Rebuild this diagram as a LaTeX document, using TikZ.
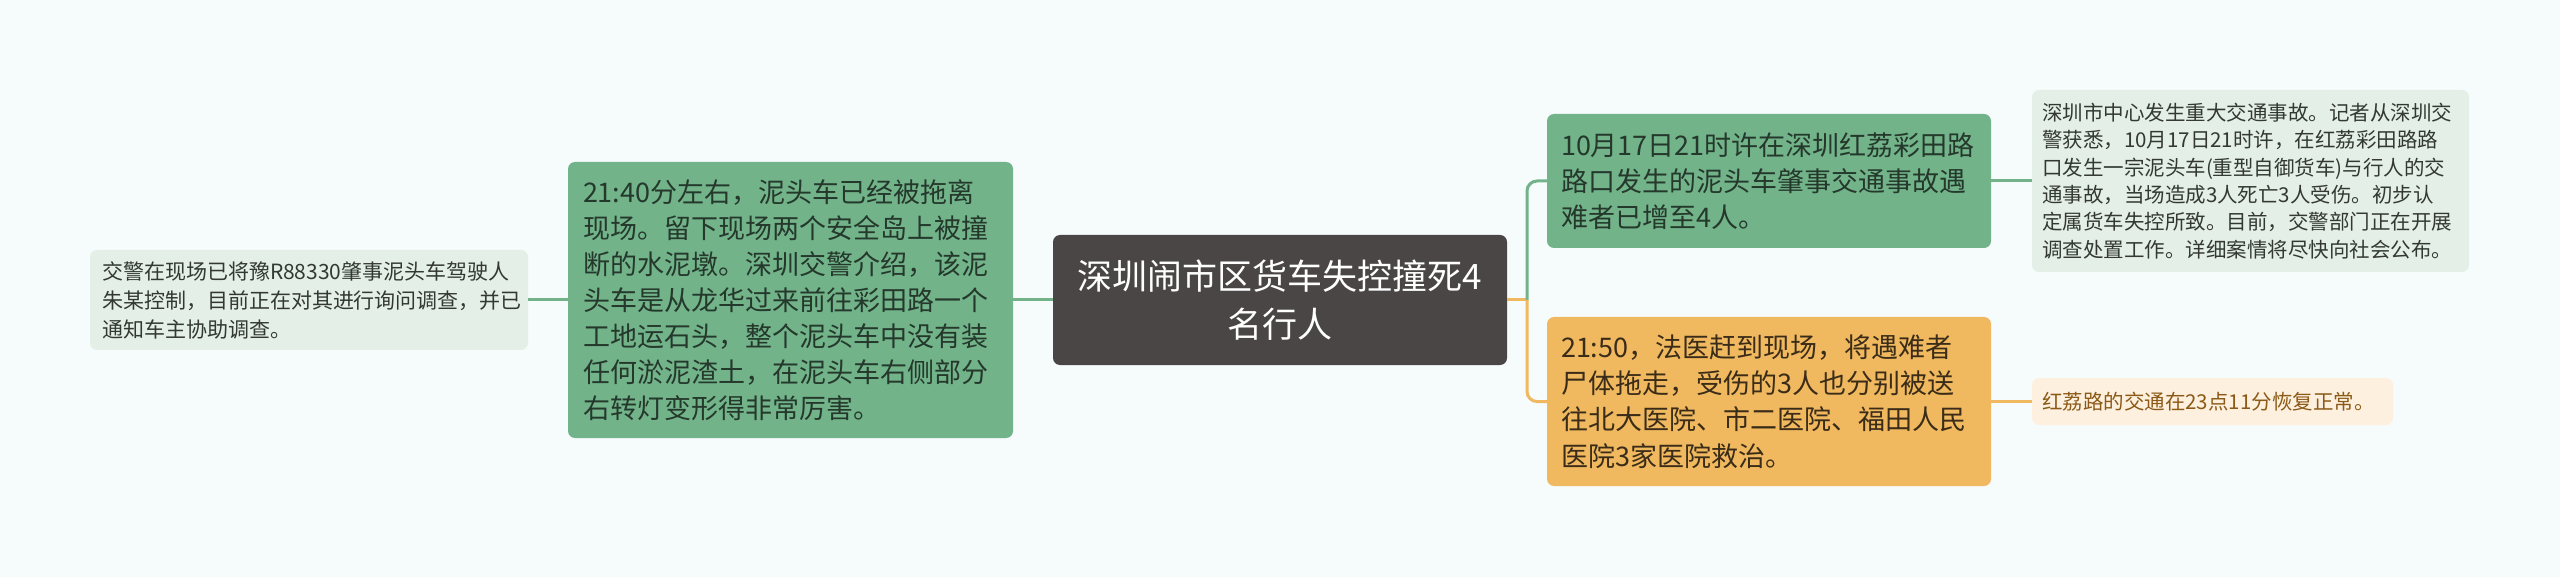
\documentclass[tikz,border=0pt]{standalone}
\usepackage{fontspec}
\setmainfont{Noto Sans CJK SC}

\definecolor{bgcol}{HTML}{F6FBFC}
\definecolor{rootcol}{HTML}{4B4646}
\definecolor{greencol}{HTML}{72B38A}
\definecolor{leafgreen}{HTML}{E4EFE7}
\definecolor{orangecol}{HTML}{F0B95F}
\definecolor{leaforange}{HTML}{FDF0DF}
\definecolor{greentext}{HTML}{24382B}
\definecolor{leaftext}{HTML}{333833}
\definecolor{orangetext}{HTML}{3A2C18}
\definecolor{browntext}{HTML}{8B5A16}

\begin{document}
\begin{tikzpicture}[x=1pt,y=-1pt,
  box/.style={rounded corners=7pt, inner ysep=0pt, align=left},
  rootbox/.style={box, fill=rootcol, text=white, align=center,
    font=\fontsize{35}{48}\selectfont},
  greenbox/.style={box, fill=greencol, text=greentext,
    font=\fontsize{27}{36}\selectfont},
  orangebox/.style={box, fill=orangecol, text=orangetext,
    font=\fontsize{27}{36.3}\selectfont},
  greenleaf/.style={box, fill=leafgreen, text=leaftext},
  orangeleaf/.style={box, fill=leaforange, text=browntext},
  greenline/.style={draw=greencol, line width=3pt},
  orangeline/.style={draw=orangecol, line width=3pt}]

\useasboundingbox[fill=bgcol] (0,0) rectangle (2560,577);

% Root topic
\node[rootbox, inner xsep=8pt, text width=438pt, minimum height=130pt]
  (root) at (1280,300)
  {深圳闹市区货车失控撞死4\\名行人};

% Left branch
\node[greenbox, inner xsep=15pt, text width=415pt, minimum height=276pt]
  (scene) at (790.5,300)
  {21:40分左右，泥头车已经被拖离\\现场。留下现场两个安全岛上被撞\\断的水泥墩。深圳交警介绍，该泥\\头车是从龙华过来前往彩田路一个\\工地运石头，整个泥头车中没有装\\任何淤泥渣土，在泥头车右侧部分\\右转灯变形得非常厉害。};

\node[greenleaf, inner xsep=12pt, text width=414pt, minimum height=100pt,
  font=\fontsize{21}{29}\selectfont]
  (driver) at (309,300)
  {交警在现场已将豫R88330肇事泥头车驾驶人\\朱某控制，目前正在对其进行询问调查，并已\\通知车主协助调查。};

% Right branch
\node[greenbox, inner xsep=14pt, text width=416pt, minimum height=134pt]
  (toll) at (1769,181)
  {10月17日21时许在深圳红荔彩田路\\路口发生的泥头车肇事交通事故遇\\难者已增至4人。};

\node[orangebox, inner xsep=14pt, text width=416pt, minimum height=169pt]
  (hospital) at (1769,401.5)
  {21:50，法医赶到现场，将遇难者\\尸体拖走，受伤的3人也分别被送\\往北大医院、市二医院、福田人民\\医院3家医院救治。};

\node[greenleaf, inner xsep=10pt, text width=417pt, minimum height=182pt,
  font=\fontsize{20.5}{27.3}\selectfont]
  (report) at (2250.5,181)
  {深圳市中心发生重大交通事故。记者从深圳交\\警获悉，10月17日21时许，在红荔彩田路路\\口发生一宗泥头车(重型自御货车)与行人的交\\通事故，当场造成3人死亡3人受伤。初步认\\定属货车失控所致。目前，交警部门正在开展\\调查处置工作。详细案情将尽快向社会公布。};

\node[orangeleaf, inner xsep=10pt, text width=341pt, minimum height=47pt,
  font=\fontsize{20.5}{27.3}\selectfont]
  (traffic) at (2212.5,401.5)
  {红荔路的交通在23点11分恢复正常。};

% Connectors
\coordinate (fork) at (1527,300);
\draw[greenline] (root.west) -- (scene.east);
\draw[greenline] (scene.west) -- (driver.east);
\draw[orangeline] (root.east) -- (fork);
\draw[greenline, rounded corners=10pt] (fork) |- (toll.west);
\draw[orangeline, rounded corners=10pt] (fork) |- (hospital.west);
\draw[greenline] (toll.east) -- (report.west);
\draw[orangeline] (hospital.east) -- (traffic.west);

\end{tikzpicture}
\end{document}
